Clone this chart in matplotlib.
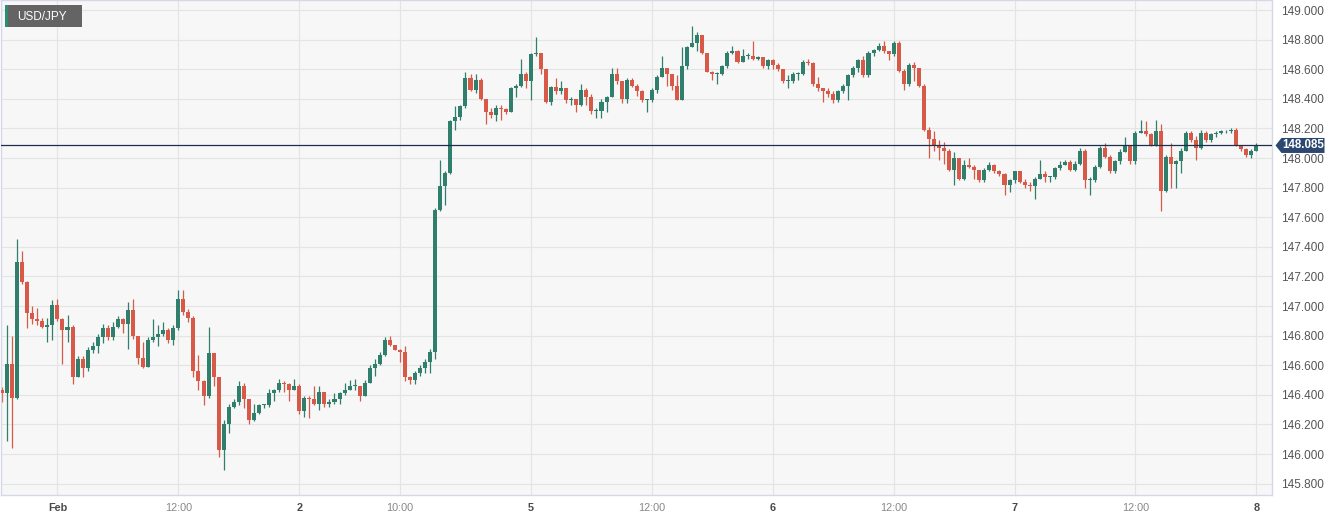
import matplotlib
matplotlib.use("Agg")
import matplotlib.pyplot as plt
import numpy as np
from matplotlib.patches import Rectangle, Polygon
from matplotlib.transforms import blended_transform_factory

plt.rcParams['font.family'] = ['Liberation Sans', 'DejaVu Sans']

# USD/JPY 30-minute candles, index 0 = Feb 1 00:00 (weekend skipped)
first_index = -11
first_open = 146.43
closes = [
    146.41, 146.61, 146.38, 147.30, 147.16, 146.95, 146.91, 146.90, 146.86, 146.87,
    147.01, 146.91, 146.84, 146.86, 146.52, 146.64, 146.58, 146.70, 146.73, 146.79,
    146.85, 146.79, 146.86, 146.91, 146.88, 146.97, 146.80, 146.65, 146.59, 146.77,
    146.79, 146.81, 146.84, 146.77, 146.85, 147.05, 146.96, 146.92, 146.56, 146.49,
    146.39, 146.68, 146.52, 146.03, 146.20, 146.32, 146.35, 146.46, 146.37, 146.23,
    146.28, 146.33, 146.33, 146.41, 146.43, 146.48, 146.47, 146.43, 146.46, 146.29,
    146.38, 146.37, 146.34, 146.42, 146.34, 146.35, 146.37, 146.41, 146.43, 146.46,
    146.46, 146.39, 146.48, 146.58, 146.61, 146.67, 146.77, 146.74, 146.70, 146.69,
    146.52, 146.50, 146.55, 146.58, 146.62, 146.69, 147.65, 147.81, 147.90, 148.25,
    148.28, 148.35, 148.54, 148.46, 148.53, 148.40, 148.31, 148.29, 148.34, 148.33,
    148.31, 148.47, 148.49, 148.57, 148.52, 148.70, 148.71, 148.60, 148.38, 148.48,
    148.45, 148.47, 148.39, 148.40, 148.36, 148.46, 148.41, 148.32, 148.32, 148.38,
    148.41, 148.57, 148.52, 148.40, 148.53, 148.49, 148.45, 148.39, 148.39, 148.46,
    148.55, 148.61, 148.57, 148.49, 148.39, 148.62, 148.75, 148.78, 148.83, 148.71,
    148.58, 148.57, 148.57, 148.62, 148.71, 148.72, 148.65, 148.69, 148.69, 148.67,
    148.68, 148.62, 148.66, 148.63, 148.60, 148.52, 148.52, 148.57, 148.57, 148.65,
    148.64, 148.50, 148.47, 148.45, 148.43, 148.39, 148.45, 148.49, 148.56, 148.61,
    148.66, 148.56, 148.71, 148.73, 148.76, 148.72, 148.70, 148.78, 148.59, 148.50,
    148.63, 148.61, 148.49, 148.19, 148.13, 148.09, 148.07, 148.05, 147.92, 148.00,
    147.86, 147.95, 147.94, 147.92, 147.85, 147.92, 147.95, 147.91, 147.89, 147.82,
    147.85, 147.91, 147.84, 147.82, 147.81, 147.86, 147.89, 147.87, 147.87, 147.93,
    147.95, 147.97, 147.92, 147.96, 148.05, 147.85, 147.85, 147.94, 148.07, 148.01,
    147.91, 147.98, 148.04, 148.08, 147.98, 148.17, 148.18, 148.16, 148.09, 148.18,
    147.78, 148.01, 147.96, 147.98, 148.05, 148.17, 148.12, 148.07, 148.17, 148.12,
    148.16, 148.17, 148.18, 148.18, 148.19, 148.09, 148.06, 148.02, 148.05, 148.085,
]
highs = [
    146.45, 146.87, 146.80, 147.45, 147.37, 147.17, 147.00, 146.99, 146.92, 146.92,
    147.04, 147.05, 146.92, 146.94, 146.87, 146.66, 146.66, 146.72, 146.76, 146.81,
    146.88, 146.87, 146.89, 146.93, 146.92, 147.03, 147.05, 146.80, 146.76, 146.79,
    146.91, 146.87, 146.89, 146.85, 146.87, 147.11, 147.11, 146.98, 146.93, 146.67,
    146.50, 146.86, 146.68, 146.52, 146.23, 146.34, 146.37, 146.49, 146.48, 146.37,
    146.34, 146.34, 146.34, 146.44, 146.44, 146.51, 146.49, 146.48, 146.51, 146.47,
    146.39, 146.39, 146.46, 146.46, 146.41, 146.37, 146.41, 146.42, 146.48, 146.50,
    146.51, 146.45, 146.50, 146.60, 146.64, 146.69, 146.79, 146.80, 146.74, 146.71,
    146.73, 146.53, 146.56, 146.60, 146.64, 146.71, 147.66, 147.99, 147.91, 148.26,
    148.35, 148.36, 148.58, 148.57, 148.57, 148.54, 148.40, 148.34, 148.36, 148.36,
    148.34, 148.48, 148.50, 148.67, 148.58, 148.71, 148.82, 148.71, 148.60, 148.49,
    148.54, 148.52, 148.47, 148.41, 148.40, 148.50, 148.47, 148.43, 148.34, 148.40,
    148.42, 148.61, 148.61, 148.52, 148.54, 148.54, 148.50, 148.46, 148.40, 148.47,
    148.56, 148.69, 148.61, 148.57, 148.56, 148.75, 148.76, 148.89, 148.85, 148.83,
    148.71, 148.59, 148.58, 148.63, 148.72, 148.76, 148.73, 148.74, 148.71, 148.79,
    148.69, 148.68, 148.67, 148.67, 148.64, 148.60, 148.56, 148.58, 148.58, 148.66,
    148.67, 148.65, 148.55, 148.47, 148.47, 148.45, 148.46, 148.50, 148.57, 148.62,
    148.67, 148.69, 148.72, 148.74, 148.78, 148.79, 148.72, 148.79, 148.79, 148.60,
    148.64, 148.65, 148.61, 148.50, 148.21, 148.18, 148.12, 148.11, 148.06, 148.04,
    148.00, 147.99, 148.00, 147.95, 147.92, 147.93, 147.97, 147.96, 147.92, 147.90,
    147.86, 147.91, 147.91, 147.86, 147.84, 147.87, 147.99, 147.91, 147.88, 147.94,
    147.98, 147.99, 147.99, 147.98, 148.07, 148.06, 147.87, 147.95, 148.08, 148.10,
    148.02, 147.99, 148.06, 148.14, 148.09, 148.18, 148.26, 148.25, 148.17, 148.26,
    148.23, 148.02, 148.10, 147.99, 148.07, 148.18, 148.18, 148.15, 148.19, 148.18,
    148.17, 148.18, 148.19, 148.19, 148.20, 148.20, 148.09, 148.07, 148.06, 148.10,
]
lows = [
    146.35, 146.09, 146.04, 146.37, 147.15, 146.85, 146.88, 146.87, 146.85, 146.76,
    146.77, 146.90, 146.61, 146.76, 146.47, 146.52, 146.52, 146.56, 146.68, 146.68,
    146.75, 146.77, 146.77, 146.85, 146.82, 146.71, 146.78, 146.61, 146.58, 146.59,
    146.76, 146.73, 146.80, 146.75, 146.74, 146.84, 146.94, 146.89, 146.52, 146.43,
    146.33, 146.38, 146.46, 145.98, 145.89, 146.14, 146.31, 146.33, 146.31, 146.20,
    146.22, 146.27, 146.31, 146.32, 146.36, 146.42, 146.42, 146.36, 146.43, 146.27,
    146.25, 146.24, 146.33, 146.30, 146.32, 146.32, 146.34, 146.34, 146.40, 146.43,
    146.43, 146.36, 146.39, 146.48, 146.53, 146.60, 146.66, 146.73, 146.70, 146.62,
    146.49, 146.47, 146.47, 146.53, 146.55, 146.55, 146.64, 147.64, 147.68, 147.89,
    148.19, 148.26, 148.34, 148.45, 148.44, 148.39, 148.23, 148.27, 148.25, 148.26,
    148.30, 148.37, 148.41, 148.48, 148.47, 148.39, 148.69, 148.57, 148.37, 148.36,
    148.43, 148.43, 148.37, 148.36, 148.31, 148.35, 148.36, 148.30, 148.27, 148.27,
    148.31, 148.41, 148.50, 148.37, 148.37, 148.48, 148.42, 148.38, 148.31, 148.38,
    148.44, 148.55, 148.49, 148.46, 148.39, 148.39, 148.60, 148.75, 148.72, 148.70,
    148.58, 148.53, 148.50, 148.56, 148.61, 148.70, 148.64, 148.65, 148.67, 148.66,
    148.66, 148.61, 148.60, 148.60, 148.59, 148.51, 148.47, 148.51, 148.53, 148.56,
    148.63, 148.49, 148.45, 148.38, 148.41, 148.37, 148.38, 148.44, 148.39, 148.55,
    148.58, 148.55, 148.55, 148.69, 148.72, 148.71, 148.66, 148.69, 148.58, 148.46,
    148.49, 148.52, 148.48, 148.18, 148.00, 148.05, 147.99, 147.96, 147.91, 147.82,
    147.85, 147.85, 147.93, 147.86, 147.84, 147.84, 147.91, 147.90, 147.88, 147.75,
    147.77, 147.83, 147.83, 147.80, 147.78, 147.72, 147.86, 147.84, 147.84, 147.86,
    147.92, 147.95, 147.91, 147.91, 147.95, 147.80, 147.75, 147.84, 147.93, 148.00,
    147.90, 147.90, 147.96, 148.04, 147.96, 147.96, 148.17, 148.15, 148.08, 148.08,
    147.64, 147.77, 147.80, 147.80, 147.90, 148.06, 148.11, 147.99, 148.06, 148.11,
    148.11, 148.14, 148.16, 148.17, 148.17, 148.08, 148.05, 148.01, 148.00, 148.05,
]
last_price = 148.085

tick_pos = [0, 24, 48, 68, 94, 118, 142, 166, 190, 214, 238]
tick_labels = ['Feb', '12:00', '2', '10:00', '5', '12:00', '6', '12:00', '7', '12:00', '8']
price_ticks = [145.8, 146.0, 146.2, 146.4, 146.6, 146.8, 147.0, 147.2, 147.4,
               147.6, 147.8, 148.0, 148.2, 148.4, 148.6, 148.8, 149.0]

green = '#2f7f6c'
red = '#d65a47'

c = np.array(closes)
o = np.concatenate([[first_open], c[:-1]])
h = np.maximum(np.array(highs), np.maximum(o, c))
l = np.minimum(np.array(lows), np.minimum(o, c))
x = np.arange(len(c)) + first_index
cols = np.where(c >= o, green, red)

fig = plt.figure(figsize=(13.43, 5.21), dpi=100)
fig.patch.set_facecolor('white')
ax = fig.add_axes([0.5 / 1343, 26 / 521, 1271.5 / 1343, 495 / 521])
ax.set_facecolor('#f7f7f7')

ax.vlines(x, l, h, colors=cols, linewidth=0.9, zorder=2)
ax.bar(x, np.maximum(np.abs(c - o), 0.006), bottom=np.minimum(o, c), width=0.8,
       color=cols, linewidth=0, zorder=3)

ax.axhline(last_price, color='#1d2f4c', linewidth=0.9, zorder=4)

ax.set_xlim(-11.3, 241.1)
ax.set_ylim(145.723, 149.068)

ax.yaxis.tick_right()
ax.set_yticks(price_ticks)
ax.set_yticklabels([f"{v:.3f}" for v in price_ticks])
ax.set_xticks(tick_pos)
ax.set_xticklabels(tick_labels)
ax.tick_params(axis='y', length=0, pad=6.5, labelsize=8.5, labelcolor='#555555')
ax.tick_params(axis='x', length=0, pad=6, labelsize=7.8, labelcolor='#888888')
for lab in ax.get_xticklabels():
    if ':' not in lab.get_text():
        lab.set_fontweight('bold')
        lab.set_color('#4a4a4a')

ax.grid(True, color='#e4e4e4', linewidth=0.8)
ax.set_axisbelow(True)
for sp in ax.spines.values():
    sp.set_color('#d4d8ea')
    sp.set_linewidth(1.0)

# last price tag on the right axis
tr = blended_transform_factory(ax.transAxes, ax.transData)
hh = 7.5 / 148
x0, x1, x2 = 1275 / 1271.5, 1281 / 1271.5, 1324 / 1271.5
tag = Polygon([[x0, last_price], [x1, last_price + hh], [x2, last_price + hh],
               [x2, last_price - hh], [x1, last_price - hh]],
              closed=True, transform=tr, clip_on=False, facecolor='#2c4870',
              edgecolor='none', zorder=5)
ax.add_patch(tag)
ax.text((x1 + x2) / 2, last_price, f"{last_price:.3f}", transform=tr, ha='center',
        va='center', color='white', fontsize=8.3, fontweight='bold', zorder=6)

# symbol label
fig.add_artist(Rectangle((5 / 1343, 1 - 27 / 521), 77 / 1343, 22 / 521,
                         transform=fig.transFigure, facecolor='#646464', edgecolor='none'))
fig.add_artist(Rectangle((5 / 1343, 1 - 27 / 521), 2.5 / 1343, 22 / 521,
                         transform=fig.transFigure, facecolor='#2e8b73', edgecolor='none'))
fig.text(17 / 1343, 1 - 16.5 / 521, 'USD/JPY', color='white', fontsize=8.5,
         ha='left', va='center')

fig.savefig('out.png', dpi=100)
